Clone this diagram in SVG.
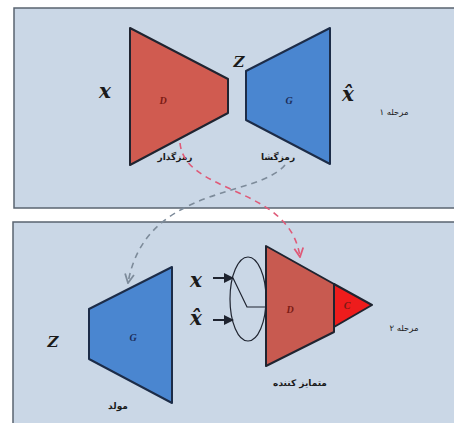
<svg xmlns="http://www.w3.org/2000/svg" width="454" height="423" viewBox="0 0 454 423">
<defs>
<style>
.panel{fill:#cad7e6;stroke:#5a6470;stroke-width:1.5}
.red{fill:#d05b50;stroke:#1f2430;stroke-width:2;stroke-linejoin:round}
.red2{fill:#c85a50;stroke:#1f2430;stroke-width:2;stroke-linejoin:round}
.blue{fill:#4a86d0;stroke:#1c2c48;stroke-width:2;stroke-linejoin:round}
.math{font-family:"DejaVu Serif","Liberation Serif",serif;font-style:italic;font-weight:bold;fill:#1a1a1a}
.sym{font-family:"Liberation Serif",serif;font-style:italic;font-weight:bold;font-size:10px}
.fa{font-family:"DejaVu Sans","Noto Sans",sans-serif;font-size:9px;font-weight:bold;fill:#1a1a1a;text-anchor:middle}
.fa2{font-family:"DejaVu Sans","Noto Sans",sans-serif;font-size:8.5px;fill:#1a1a1a;text-anchor:middle}
.dg{fill:none;stroke:#7d8b9a;stroke-width:1.6;stroke-dasharray:6,5}
.dr{fill:none;stroke:#df5a78;stroke-width:1.6;stroke-dasharray:6,5}
.ar{stroke:#1f2430;stroke-width:2;fill:none}
</style>
<marker id="mg" viewBox="0 0 10 10" refX="9" refY="5" markerWidth="7" markerHeight="7" orient="auto"><path d="M1,1 L9,5 L1,9" fill="none" stroke="#7d8b9a" stroke-width="1.6"/></marker>
<marker id="mr" viewBox="0 0 10 10" refX="9" refY="5" markerWidth="7" markerHeight="7" orient="auto"><path d="M1,1 L9,5 L1,9" fill="none" stroke="#df5a78" stroke-width="1.6"/></marker>
<marker id="mk" viewBox="0 0 10 10" refX="9" refY="5" markerWidth="5" markerHeight="5" orient="auto"><path d="M0,0 L10,5 L0,10 Z" fill="#1f2430"/></marker>
</defs>
<rect x="0" y="0" width="454" height="423" fill="#ffffff"/>
<g id="panel1">
<rect class="panel" x="14" y="8" width="445" height="200"/>
<text class="fa2" x="394" y="115">مرحله ۱</text>
</g>
<g id="panel2">
<rect class="panel" x="13" y="222" width="445" height="210"/>
<text class="fa2" x="404" y="331">مرحله ۲</text>
</g>
<g id="encoder">
<polygon class="red" points="130,28 228,79 228,113 130,165"/>
<text class="sym" x="163" y="104" fill="#7a1a14" text-anchor="middle">D</text>
<text class="fa" x="175" y="160">رمزگذار</text>
</g>
<g id="decoder">
<polygon class="blue" points="246,71 330,28 330,164 246,120"/>
<text class="sym" x="289" y="104" fill="#1c2c58" text-anchor="middle">G</text>
<text class="fa" x="278" y="160">رمزگشا</text>
</g>
<g id="x-top"><text class="math" x="105" y="98" font-size="20" text-anchor="middle">x</text></g>
<g id="z-top"><text class="math" x="239" y="67" font-size="15" text-anchor="middle">Z</text></g>
<g id="xhat-top"><text class="math" x="348" y="101" font-size="20" text-anchor="middle">x̂</text></g>
<g id="generator">
<polygon class="blue" points="89,309 172,267 172,403 89,359"/>
<text class="sym" x="133" y="341" fill="#1c2c58" text-anchor="middle">G</text>
<text class="fa" x="118" y="409">مولد</text>
</g>
<g id="z-bottom"><text class="math" x="53" y="347" font-size="15" text-anchor="middle">Z</text></g>
<g id="discriminator">
<polygon class="red2" points="266,246 334,284 334,332 266,366"/>
<polygon points="334,284 372,305 334,327" fill="#ee1c1c" stroke="#1f2430" stroke-width="2" stroke-linejoin="round"/>
<text class="sym" x="290" y="313" fill="#7a1a14" text-anchor="middle">D</text>
<text class="sym" x="347" y="309" fill="#7a1a14" text-anchor="middle">C</text>
<text class="fa" x="300" y="386">متمایز کننده</text>
</g>
<g id="switch">
<ellipse cx="248" cy="299" rx="18" ry="42" fill="none" stroke="#1f2430" stroke-width="1.2"/>
<path d="M233,278 L247,307 L266,307" fill="none" stroke="#1f2430" stroke-width="1.2"/>
<text class="math" x="196" y="287" font-size="20" text-anchor="middle">x</text>
<text class="math" x="196" y="325" font-size="20" text-anchor="middle">x̂</text>
</g>
<g id="connectors">
<line class="ar" x1="213" y1="278" x2="233" y2="278" marker-end="url(#mk)"/>
<line class="ar" x1="213" y1="320" x2="233" y2="320" marker-end="url(#mk)"/>
<path class="dr" d="M180,143 C185,195 290,185 300,257" marker-end="url(#mr)"/>
<path class="dg" d="M285,165 C258,198 145,185 128,283" marker-end="url(#mg)"/>
</g>
</svg>
